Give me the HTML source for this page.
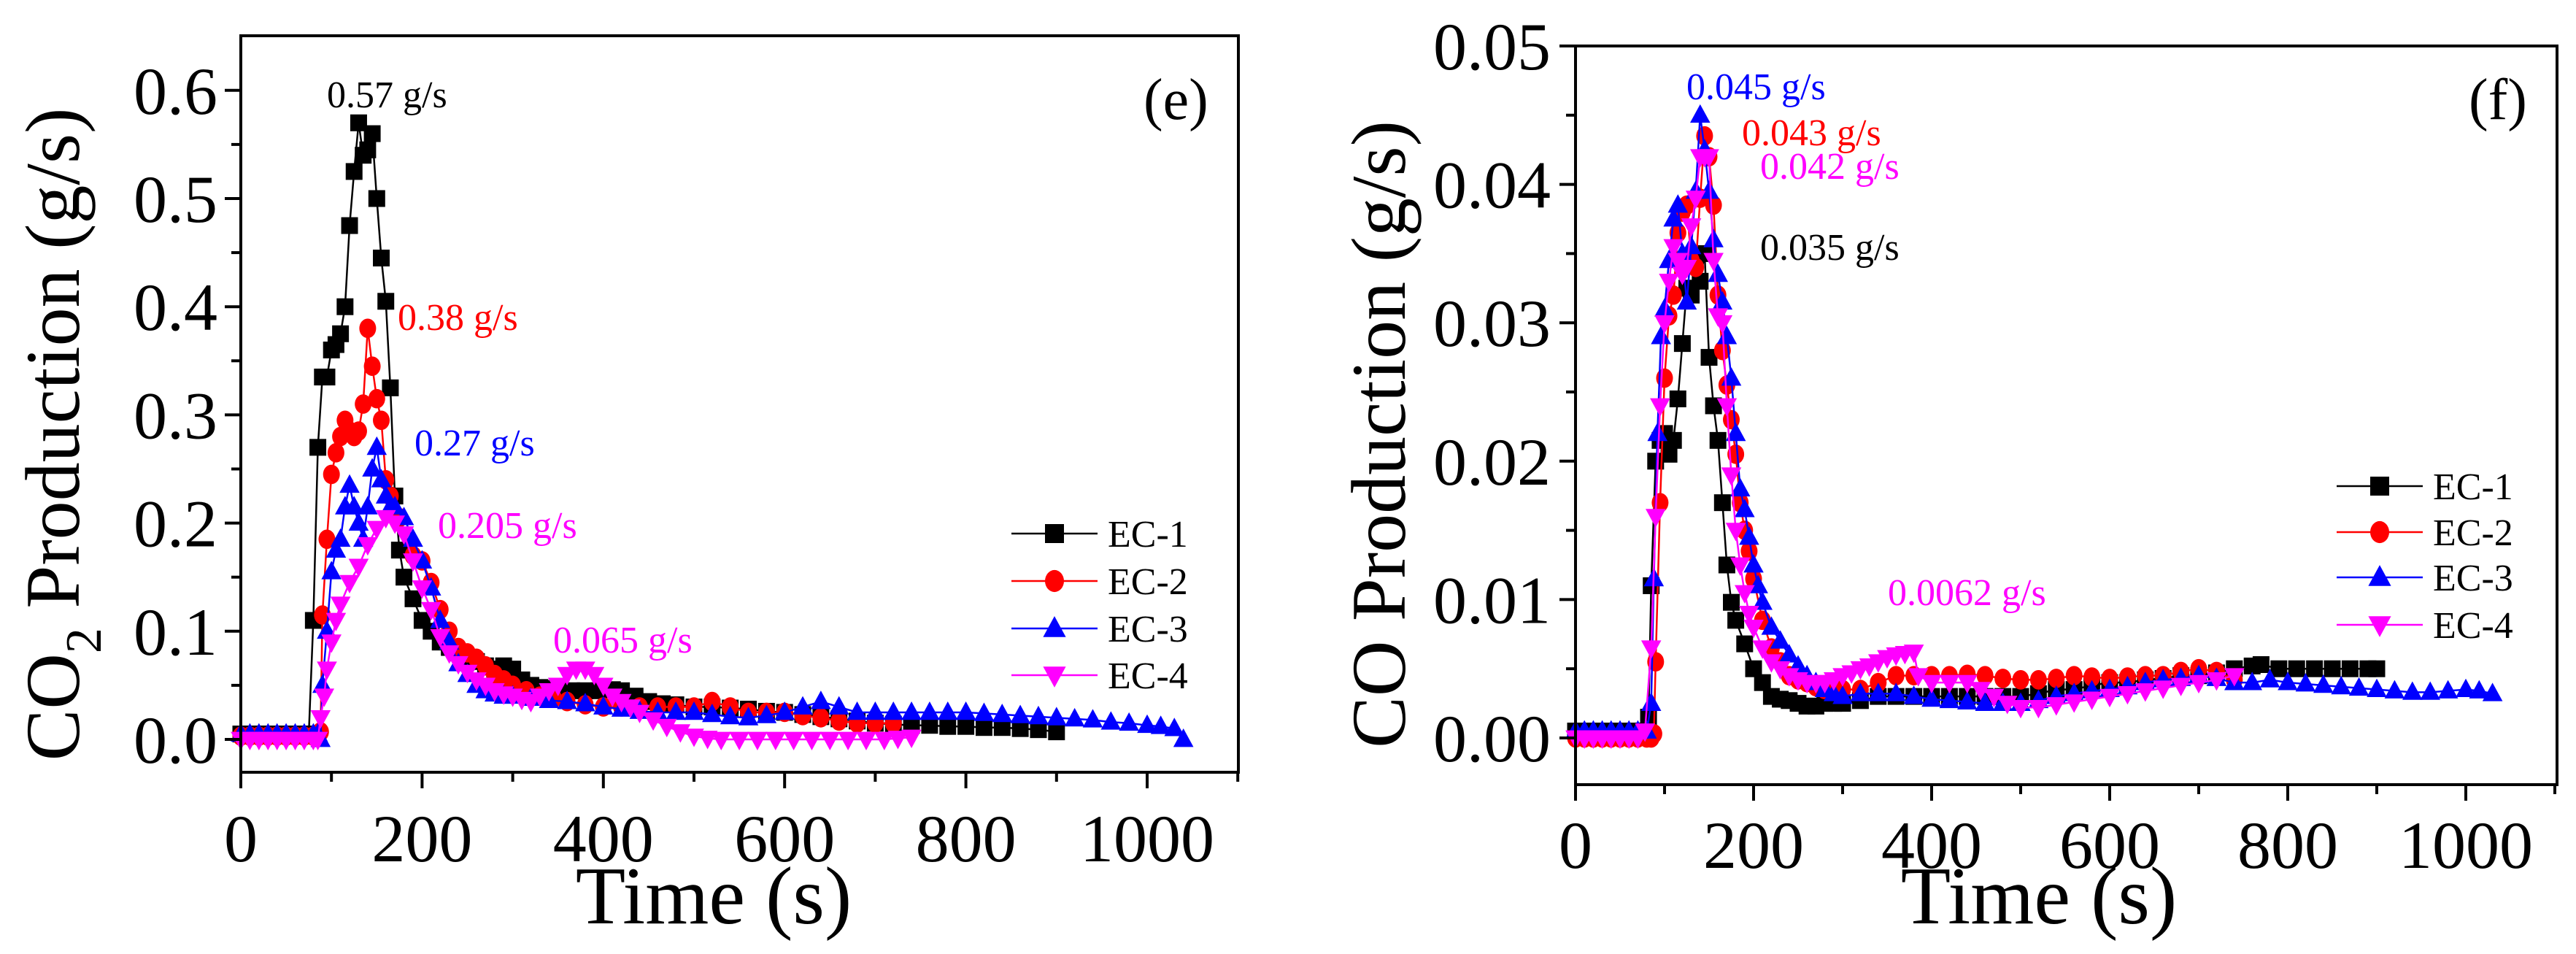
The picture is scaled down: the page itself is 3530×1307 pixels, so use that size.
<!DOCTYPE html>
<html><head><meta charset="utf-8"><style>
html,body{margin:0;padding:0;background:#fff;}
svg{display:block;font-family:"Liberation Serif",serif;}
</style></head><body>
<svg id="fig" width="3530" height="1307" viewBox="0 0 3530 1307" xmlns="http://www.w3.org/2000/svg"></svg>
<script>
// ---- Panel (e) CO2 data ----
const co2T1=[0,10,20,30,40,50,60,70,75,80,85,90,95,100,105,110,115,120,125,130,135,140,145,150,155,160,165,170,175,180,190,200,210,220,230,240,250,260,270,280,290,300,310,320,330,340,350,365,380,395,410,420,435,450,465,480,500,520,540,560,580,600,620,640,660,680,700,720,740,760,780,800,820,840,860,880,900];
const co2V1=[0.005,0.005,0.005,0.005,0.005,0.005,0.005,0.005,0.005,0.11,0.27,0.335,0.335,0.36,0.365,0.375,0.40,0.475,0.525,0.57,0.54,0.545,0.56,0.50,0.445,0.405,0.325,0.225,0.175,0.15,0.13,0.11,0.10,0.09,0.085,0.08,0.075,0.072,0.068,0.065,0.068,0.065,0.055,0.05,0.048,0.047,0.045,0.045,0.045,0.045,0.046,0.045,0.04,0.035,0.033,0.032,0.03,0.03,0.029,0.028,0.026,0.025,0.023,0.021,0.019,0.017,0.015,0.014,0.013,0.013,0.012,0.012,0.011,0.011,0.01,0.009,0.007];
const co2T2=[0,10,20,30,40,50,60,70,80,85,88,90,95,100,105,110,115,120,125,130,135,140,145,150,155,160,165,175,190,200,210,220,230,240,250,260,270,280,290,300,315,330,345,360,380,400,420,440,460,480,500,520,540,560,580,600,620,640,660,680,700,720];
const co2V2=[0.003,0.003,0.003,0.003,0.003,0.003,0.003,0.003,0.003,0.004,0.007,0.115,0.185,0.245,0.265,0.28,0.295,0.285,0.28,0.285,0.31,0.38,0.345,0.315,0.295,0.24,0.225,0.205,0.17,0.165,0.145,0.12,0.1,0.085,0.08,0.075,0.068,0.06,0.055,0.05,0.045,0.04,0.038,0.035,0.032,0.03,0.03,0.03,0.03,0.03,0.03,0.035,0.03,0.025,0.025,0.025,0.022,0.02,0.017,0.015,0.015,0.015];
const co2T3=[0,10,20,30,40,50,60,70,80,85,88,90,95,100,105,110,115,120,125,130,135,140,145,150,155,160,165,170,180,190,200,210,220,230,240,250,260,270,280,290,300,320,340,360,380,400,420,440,460,480,500,520,540,560,580,600,620,640,660,680,700,720,740,760,780,800,820,840,860,880,900,920,940,960,980,1000,1015,1030,1040];
const co2V3=[0.005,0.005,0.005,0.005,0.005,0.005,0.005,0.005,0.005,0.005,0.0,0.05,0.1,0.155,0.175,0.185,0.215,0.235,0.215,0.2,0.185,0.215,0.25,0.27,0.24,0.225,0.215,0.215,0.205,0.185,0.165,0.14,0.11,0.09,0.07,0.06,0.05,0.045,0.042,0.04,0.04,0.038,0.036,0.035,0.033,0.03,0.028,0.026,0.025,0.025,0.025,0.023,0.021,0.02,0.022,0.025,0.03,0.035,0.03,0.025,0.025,0.025,0.025,0.025,0.025,0.025,0.024,0.023,0.022,0.021,0.02,0.019,0.018,0.016,0.015,0.013,0.012,0.01,0.0];
const co2T4=[0,10,20,30,40,50,60,70,80,85,88,92,95,100,105,110,120,130,140,150,160,170,180,190,200,210,220,230,240,250,260,270,280,290,300,310,320,330,340,350,360,370,380,390,400,410,420,430,440,455,470,485,500,515,530,550,570,590,610,630,650,670,690,710,725,740];
const co2V4=[0,0,0,0,0,0,0,0,0,0,0.02,0.04,0.065,0.09,0.11,0.125,0.145,0.16,0.18,0.195,0.205,0.2,0.19,0.165,0.14,0.12,0.095,0.08,0.07,0.062,0.055,0.05,0.045,0.042,0.04,0.037,0.035,0.04,0.045,0.05,0.06,0.065,0.065,0.06,0.05,0.04,0.035,0.03,0.025,0.018,0.012,0.007,0.003,0.001,0,0,0,0,0,0,0,0,0,0,0.001,0.002];
// ---- Panel (f) CO data ----
const coT1=[0,10,20,30,40,50,60,70,80,82,85,90,95,100,105,110,115,120,125,130,140,145,150,155,160,165,170,175,180,190,200,210,220,230,240,250,260,270,280,290,300,320,340,360,380,400,420,440,460,480,500,520,540,560,580,600,620,640,660,680,700,720,740,760,770,790,810,830,850,870,890,900];
const coV1=[0.0005,0.0005,0.0005,0.0005,0.0005,0.0005,0.0005,0.0005,0.0005,0.0015,0.011,0.02,0.0215,0.022,0.0205,0.0215,0.0245,0.0285,0.0325,0.032,0.033,0.035,0.0275,0.024,0.0215,0.017,0.0125,0.0098,0.0085,0.0068,0.005,0.004,0.003,0.0028,0.0027,0.0025,0.0023,0.0023,0.0025,0.0025,0.0025,0.0027,0.003,0.003,0.003,0.003,0.003,0.003,0.003,0.003,0.003,0.0032,0.0035,0.0035,0.0038,0.004,0.004,0.0042,0.0043,0.0045,0.0045,0.0047,0.005,0.0052,0.0053,0.005,0.005,0.005,0.005,0.005,0.005,0.005];
const coT2=[0,10,20,30,40,50,60,70,80,85,88,90,95,100,105,110,115,120,125,130,135,140,145,150,155,160,165,170,175,180,185,190,195,200,210,220,230,240,250,260,270,280,300,320,340,360,380,400,420,440,460,480,500,520,540,560,580,600,620,640,660,680,700,720,740];
const coV2=[0,0,0,0,0,0,0,0,0,0,0.0003,0.0055,0.017,0.026,0.0305,0.032,0.0365,0.038,0.0385,0.0345,0.034,0.039,0.0435,0.042,0.0385,0.032,0.028,0.0255,0.023,0.0205,0.017,0.015,0.0135,0.0115,0.0085,0.0065,0.0055,0.0045,0.0042,0.004,0.0037,0.0035,0.0035,0.0035,0.004,0.0045,0.0045,0.0045,0.0045,0.0046,0.0045,0.0043,0.0042,0.0042,0.0043,0.0045,0.0044,0.0043,0.0044,0.0045,0.0045,0.0048,0.005,0.0048,0.0042];
const coT3=[0,10,20,30,40,50,60,70,80,85,88,92,96,100,105,110,115,120,125,130,135,140,145,150,155,160,165,170,175,180,185,190,195,200,205,210,220,230,240,250,260,270,280,290,300,320,340,360,380,400,420,440,460,480,500,520,540,560,580,600,620,640,660,680,700,720,740,760,780,800,820,840,860,880,900,920,940,960,980,1000,1015,1030];
const coV3=[0.0005,0.0005,0.0005,0.0005,0.0005,0.0005,0.0005,0.0005,0.0005,0.0025,0.0115,0.022,0.029,0.031,0.0345,0.0375,0.0385,0.035,0.0315,0.0355,0.0395,0.045,0.0425,0.0395,0.036,0.0335,0.0315,0.029,0.026,0.022,0.018,0.0165,0.0145,0.0125,0.011,0.0098,0.008,0.007,0.006,0.0052,0.0045,0.004,0.0035,0.0032,0.003,0.0032,0.0032,0.0032,0.003,0.0028,0.0027,0.0026,0.0025,0.0025,0.0025,0.0027,0.003,0.0032,0.0034,0.0035,0.0037,0.004,0.0042,0.0043,0.0045,0.0043,0.004,0.004,0.0042,0.004,0.0039,0.0038,0.0037,0.0036,0.0035,0.0034,0.0033,0.0033,0.0034,0.0035,0.0034,0.0032];
const coT4=[0,10,20,30,40,50,60,70,78,85,90,95,100,105,110,115,120,125,130,135,140,145,150,155,160,165,170,175,180,185,190,195,200,210,220,230,240,250,260,270,280,290,300,310,320,330,340,350,360,370,380,385,400,420,440,455,470,485,500,520,540,560,580,600,620,640,660,680,700,720,740];
const coV4=[0,0,0,0,0,0,0,0,0.0005,0.0065,0.016,0.024,0.03,0.033,0.0355,0.0345,0.0335,0.034,0.037,0.039,0.042,0.042,0.042,0.0345,0.0305,0.03,0.024,0.019,0.015,0.0125,0.0105,0.009,0.008,0.0065,0.0055,0.005,0.0045,0.0042,0.004,0.004,0.004,0.0042,0.0045,0.0047,0.005,0.0052,0.0055,0.0058,0.006,0.0061,0.0062,0.0045,0.004,0.004,0.004,0.0035,0.003,0.0025,0.0022,0.0022,0.0024,0.0026,0.0028,0.003,0.0032,0.0034,0.0036,0.0038,0.004,0.0042,0.0045];
const yTicksE=["0.0","0.1","0.2","0.3","0.4","0.5","0.6"];
const yTicksF=["0.00","0.01","0.02","0.03","0.04","0.05"];
const xTicks=["0","200","400","600","800","1000"];
const seriesNames=["EC-1","EC-2","EC-3","EC-4"];

const NS="http://www.w3.org/2000/svg";
const svg=document.getElementById('fig');
function mk(tag,attrs,parent){const e=document.createElementNS(NS,tag);for(const k in attrs)e.setAttribute(k,attrs[k]);(parent||svg).appendChild(e);return e;}
const colors=["#000000","#ff0000","#0000ff","#ff00ff"];
const shapes=["square","circle","up","down"];

function marker(g,shape,x,y,c,s){
  let e;
  if(shape==="square"){e=mk('rect',{x:x-s/2,y:y-s/2,width:s,height:s,fill:c},g);}
  else if(shape==="circle"){e=mk('ellipse',{cx:x,cy:y,rx:s*0.5,ry:s*0.58,fill:c},g);}
  else if(shape==="up"){e=mk('polygon',{points:`${x},${y-s*0.65} ${x-s*0.6},${y+s*0.45} ${x+s*0.6},${y+s*0.45}`,fill:c},g);}
  else {e=mk('polygon',{points:`${x},${y+s*0.65} ${x-s*0.6},${y-s*0.45} ${x+s*0.6},${y-s*0.45}`,fill:c},g);}
  return e;
}

function panel(cfg){
  const g=mk('g',{});
  
  
  const X=t=>cfg.x0+t*cfg.xs;
  const Y=v=>cfg.y0-v*cfg.ys;
  cfg.series.forEach((s,i)=>{
    const sg=mk('g',{},g);
    
    
    const pts=s.t.map((t,k)=>X(t)+','+Y(s.v[k])).join(' ');
    const pl=mk('polyline',{points:pts,fill:'none',stroke:colors[i],'stroke-width':2.5},sg);
    
    
    s.t.forEach((t,k)=>{
      const m=marker(sg,shapes[i],X(t),Y(s.v[k]),colors[i],23);
      
      
    });
  });
  const fr=mk('rect',{x:cfg.fl,y:cfg.ft,width:cfg.fr-cfg.fl,height:cfg.fb-cfg.ft,fill:'none',stroke:'#000','stroke-width':4},g);
  
  
  for(let t=0;t<=1100;t+=100){
    const x=X(t);const major=t%200===0;
    mk('line',{x1:x,y1:cfg.fb,x2:x,y2:cfg.fb+(major?22:13),stroke:'#000','stroke-width':4},g);
  }
  xTicks.forEach(lbl=>{
    const tx=mk('text',{x:X(+lbl),y:cfg.xlabY,'font-size':92,'text-anchor':'middle'},g);
    tx.textContent=lbl;
    
    
  });
  const step=cfg.yStep;
  for(let k=0;k<=cfg.yTicks.length*2-2;k++){
    const v=k*step/2;const y=Y(v);const major=k%2===0;
    mk('line',{x1:cfg.fl,y1:y,x2:cfg.fl-(major?22:13),y2:y,stroke:'#000','stroke-width':4},g);
  }
  cfg.yTicks.forEach(lbl=>{
    const tx=mk('text',{x:cfg.ylabX,y:Y(+lbl)+32,'font-size':92,'text-anchor':'end'},g);
    tx.textContent=lbl;
    
    
  });
  const xt=mk('text',{x:cfg.xtitleX,y:1265,'font-size':112,'text-anchor':'middle'},g);
  xt.textContent='Time (s)';
  
  
  const yt=mk('text',{x:0,y:0,'font-size':106,'text-anchor':'middle',transform:`translate(${cfg.ytitleX},${cfg.ytitleY}) rotate(-90)`},g);
  yt.innerHTML=cfg.ytitle;
  
  
  const pl=mk('text',{x:cfg.labX,y:163,'font-size':80},g);
  pl.textContent=cfg.label;
  
  
  cfg.notes.forEach(n=>{
    const a=mk('text',{x:n[1],y:n[2],'font-size':52,fill:n[3]},g);
    a.textContent=n[0];
    
    
  });
  const lg=mk('g',{},g);
  
  
  seriesNames.forEach((nm,i)=>{
    const y=cfg.legY[i];
    const eg=mk('g',{},lg);
    
    
    mk('line',{x1:cfg.legX,y1:y,x2:cfg.legX+118,y2:y,stroke:colors[i],'stroke-width':2.5},eg);
    marker(eg,shapes[i],cfg.legX+59,y,colors[i],26);
    const t=mk('text',{x:cfg.legX+132,y:y+18,'font-size':52},eg);
    t.textContent=nm;
  });
}

panel({name:'co2-panel-e',x0:330,xs:1.242,y0:1013,ys:1482,fl:330,fr:1697,ft:49,fb:1058,yStep:0.1,yTicks:yTicksE,
  xlabY:1180,ylabX:298,xtitleX:978,ytitleX:108,ytitleY:595,
  ytitle:'CO<tspan font-size="70" dy="30">2</tspan><tspan dy="-30"> Production (g/s)</tspan>',
  label:'(e)',labX:1567,
  series:[{t:co2T1,v:co2V1},{t:co2T2,v:co2V2},{t:co2T3,v:co2V3},{t:co2T4,v:co2V4}],
  notes:[['0.57 g/s',448,147,'#000'],['0.38 g/s',545,452,'#ff0000'],['0.27 g/s',568,624,'#0000ff'],['0.205 g/s',600,737,'#ff00ff'],['0.065 g/s',758,894,'#ff00ff']],
  legX:1386,legY:[731,796,861,925]});
panel({name:'co-panel-f',x0:2159,xs:1.22,y0:1011,ys:18960,fl:2159,fr:3504,ft:63,fb:1075,yStep:0.01,yTicks:yTicksF,
  xlabY:1189,ylabX:2125,xtitleX:2794,ytitleX:1925,ytitleY:595,
  ytitle:'CO Production (g/s)',
  label:'(f)',labX:3383,
  series:[{t:coT1,v:coV1},{t:coT2,v:coV2},{t:coT3,v:coV3},{t:coT4,v:coV4}],
  notes:[['0.045 g/s',2311,136,'#0000ff'],['0.043 g/s',2387,199,'#ff0000'],['0.042 g/s',2412,245,'#ff00ff'],['0.035 g/s',2412,356,'#000'],['0.0062 g/s',2587,829,'#ff00ff']],
  legX:3202,legY:[666,729,791,856]});
</script>
</body></html>
